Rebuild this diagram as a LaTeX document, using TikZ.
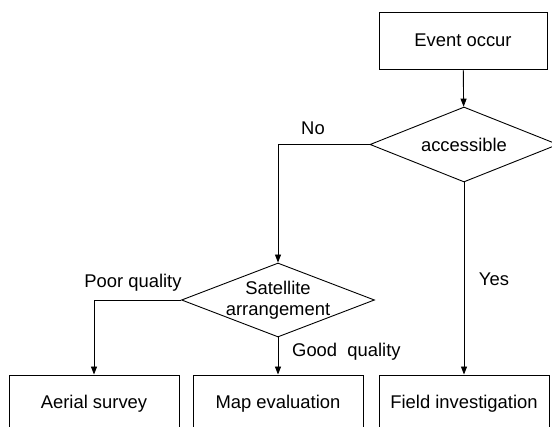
\documentclass[tikz,border=0pt]{standalone}
\usepackage{fontspec}
\setmainfont{Liberation Sans}
\usetikzlibrary{arrows.meta,positioning,shapes.geometric}

\begin{document}
\begin{tikzpicture}[
  x=1pt,y=-1pt,
  font=\fontsize{18.4}{21}\selectfont,
  box/.style={draw,line width=0.9pt,minimum width=170pt,minimum height=58pt,inner sep=0pt},
  dia/.style={draw,diamond,line width=0.9pt,aspect=2.6,inner sep=-3pt,align=center},
  arr/.style={line width=0.9pt,-{Triangle[length=8pt,width=6pt]}},
  lbl/.style={inner sep=0pt},
]
  \useasboundingbox (0,0) rectangle (552,427);
  \clip (0,0) rectangle (552,427);

  \node[box,minimum width=168pt,minimum height=57pt] (ev) at (463,40.5) {Event occur};
  \node[dia,minimum width=188pt,minimum height=75pt] (acc) at (464,144.5) {accessible};
  \node[dia,minimum width=193pt,minimum height=74pt] (sat) at (278,300) {Satellite\\arrangement};

  \node[box] (aer) at (94,404) {Aerial survey};
  \node[box] (map) at (278,404) {Map evaluation};
  \node[box] (fld) at (464,404) {Field investigation};

  \draw[arr] (ev) -- (acc);
  \draw[arr] (acc.west) -| (sat.north);
  \draw[arr] (acc) -- (fld);
  \draw[arr] (sat.west) -| (aer.north);
  \draw[arr] (sat) -- (map);

  \node[lbl] (no) at (313,128) {No};
  \node[lbl] (yes) at (494,279) {Yes};
  \node[lbl] (poor) at (133,283) {Poor quality};
  \node[lbl,anchor=west] (good) at (292,352) {Good\ \ quality};
\end{tikzpicture}
\end{document}
